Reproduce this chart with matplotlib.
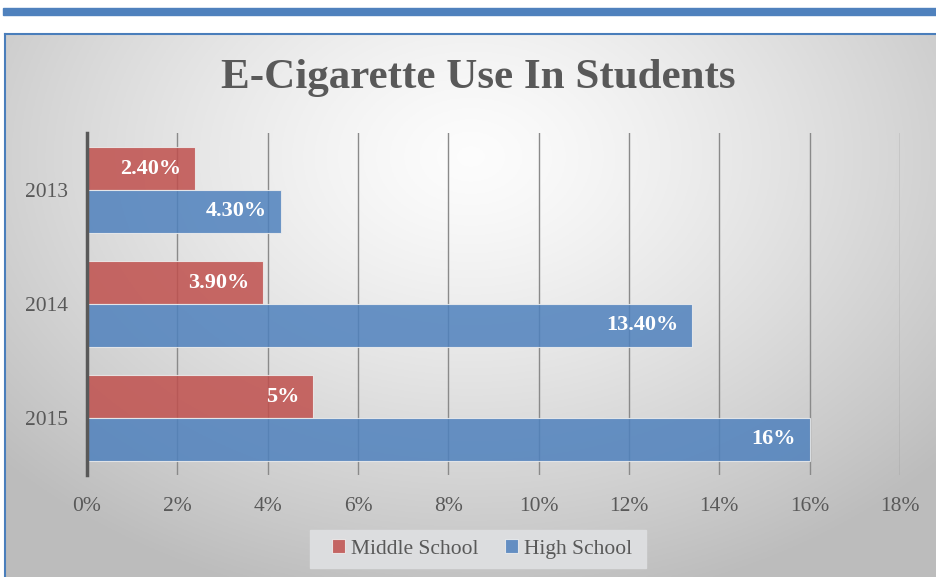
import numpy as np
import matplotlib.pyplot as plt
from matplotlib.patches import Rectangle

plt.rcParams['font.family'] = ['Liberation Serif', 'DejaVu Serif']

# Data
years = ["2013", "2014", "2015"]
middle = [2.4, 3.9, 5.0]
high = [4.3, 13.4, 16.0]
middle_labels = ["2.40%", "3.90%", "5%"]
high_labels = ["4.30%", "13.40%", "16%"]
xticks = [0, 2, 4, 6, 8, 10, 12, 14, 16, 18]

grey_text = "#595959"
red = "#c0504d"
blue = "#4f81bd"

W, H = 937, 577
fig = plt.figure(figsize=(W / 100, H / 100), dpi=100)
fig.patch.set_facecolor("white")

# top blue band
fig.patches.append(Rectangle((3 / W, 1 - 15 / H), 934 / W, 7 / H,
                             transform=fig.transFigure, color=blue, zorder=0))

# chart area with radial gradient
bg = fig.add_axes([5 / W, 0, 932 / W, (H - 34) / H], zorder=0)
gx = np.linspace(-1, 1, 400)
gy = np.linspace(-1, 1, 300)
GX, GY = np.meshgrid(gx, gy)
r = np.sqrt((GX * 1.0) ** 2 + ((GY + 0.55) * 0.8) ** 2)
r = np.clip(r / 1.35, 0, 1)
shade = 0.99 - 0.25 * r ** 1.3
bg.imshow(np.dstack([shade] * 3), extent=[0, 1, 0, 1], aspect="auto", origin="upper")
bg.set_xlim(0, 1)
bg.set_ylim(0, 1)
bg.set_xticks([])
bg.set_yticks([])
for s in ["right", "bottom"]:
    bg.spines[s].set_visible(False)
for s in ["left", "top"]:
    bg.spines[s].set_color("#4a7ebb")
    bg.spines[s].set_linewidth(1.5)

# legend background box
bg.add_patch(Rectangle((305 / 932, 9 / 543), 336 / 932, 38 / 543,
                       transform=bg.transAxes, color="#dcdddf", zorder=2))

# main axes
ax = fig.add_axes([87 / W, (H - 475) / H, (900 - 87) / W, (475 - 133) / H], zorder=2)
ax.set_facecolor("none")

y = np.arange(len(years))
h = 0.374
bars_m = ax.barh(y - h / 2, middle, height=h, color=red, alpha=0.85,
                 edgecolor="#eeeeee", linewidth=0.8, label="Middle School", zorder=3)
bars_h = ax.barh(y + h / 2, high, height=h, color=blue, alpha=0.85,
                 edgecolor="#eeeeee", linewidth=0.8, label="High School", zorder=3)

for bars, labels in [(bars_m, middle_labels), (bars_h, high_labels)]:
    for b, lab in zip(bars, labels):
        ax.annotate(lab, (b.get_width(), b.get_y() + b.get_height() / 2),
                    xytext=(-10, 0), textcoords="offset points",
                    ha="right", va="center", color="white",
                    fontsize=16, fontweight="bold", zorder=4)

ax.set_xlim(0, 18)
ax.set_ylim(2.5, -0.5)
ax.set_xticks(xticks)
ax.set_xticklabels([f"{t}%" for t in xticks])
ax.set_yticks(y)
ax.set_yticklabels(years)
ax.tick_params(axis="both", length=0, labelsize=15.5, colors=grey_text)
ax.tick_params(axis="x", pad=16)
ax.tick_params(axis="y", pad=14)
ax.grid(axis="x", color="#8a8a8a", linewidth=1.0, zorder=1)
ax.set_axisbelow(True)
for s in ["top", "right", "bottom"]:
    ax.spines[s].set_visible(False)
ax.spines["left"].set_color(grey_text)
ax.spines["left"].set_linewidth(2.5)
ax.spines["left"].set_zorder(5)

fig.text(478 / W, 1 - 78 / H, "E-Cigarette Use In Students", ha="center", va="center",
         fontsize=31, fontweight="bold", color=grey_text)

leg = fig.legend(handles=[bars_m, bars_h], loc="center", bbox_to_anchor=(482 / W, 28 / H),
                 ncol=2, frameon=False, fontsize=15.5, handlelength=0.6, handleheight=0.6,
                 handletextpad=0.3, columnspacing=1.2)
for t in leg.get_texts():
    t.set_color(grey_text)

fig.savefig("out.png", dpi=100)
